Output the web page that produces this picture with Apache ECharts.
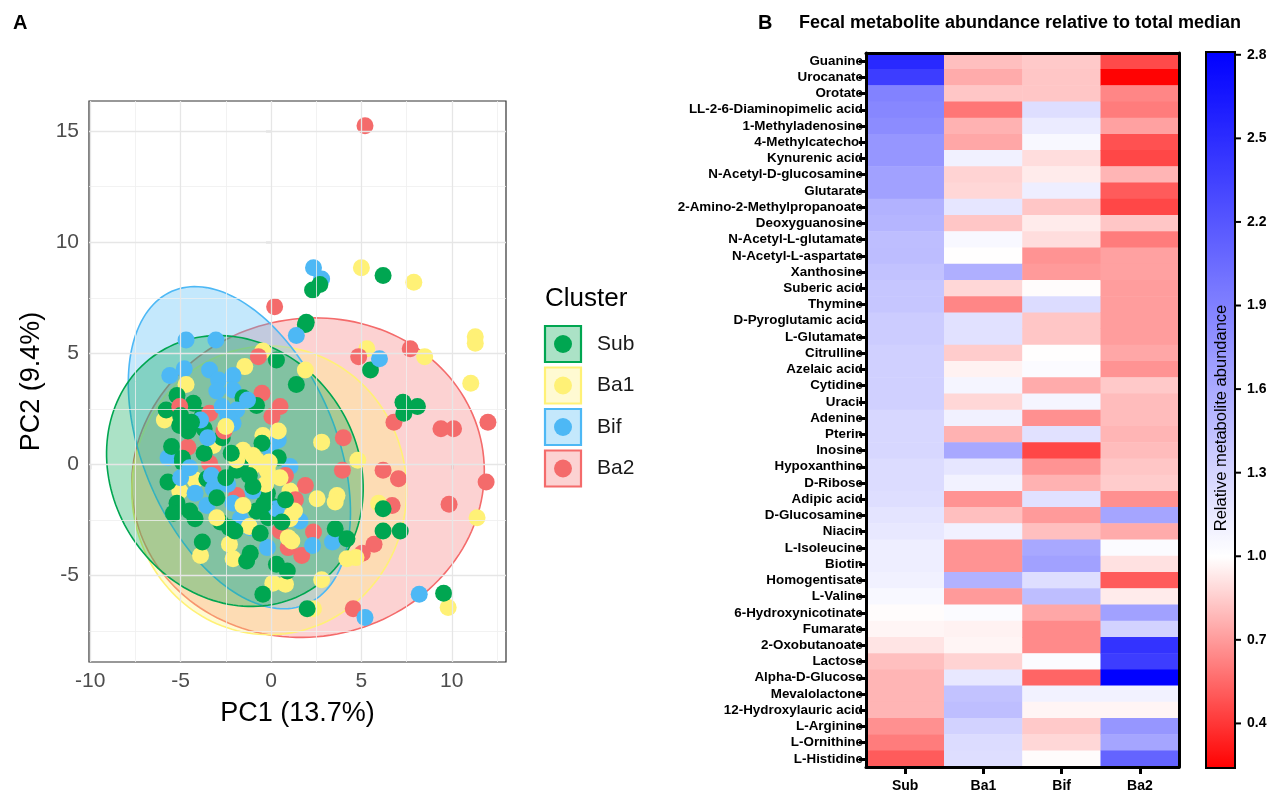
<!DOCTYPE html>
<html><head><meta charset="utf-8">
<script src="https://cdn.jsdelivr.net/npm/echarts@6/dist/echarts.min.js"></script>
<style>html,body{margin:0;padding:0;background:#fff}#c{width:1277px;height:793px}</style>
</head><body><div id="c"></div>
<script>
// ---------- Panel A data ----------
const clusters = ['Sub', 'Ba1', 'Bif', 'Ba2'];
const pointsSub = [[1.9,6.3],[0.3,4.7],[1.4,3.6],[5.5,4.25],[-5.2,3.1],[-5.8,2.45],[-4.3,2.75],[-3.8,2.2],[-1.55,3.0],[-0.8,2.65],[-5.05,1.75],[-4.6,1.5],[-3.7,1.6],[-2.7,1.2],[-3.7,0.5],[-4.9,0.27],[-0.5,0.95],[0.4,0.3],[-1.7,-0.05],
[-5.7,-0.8],[-4.9,0.1],[-3.55,-0.65],[-5.2,-1.75],[-4.5,-2.1],[-4.2,-2.45],[-5.4,-2.2],[-2.8,-2.6],[-2.3,-2.85],[-1.9,-0.27],[-0.2,-1.3],[-0.8,-2.1],[-0.15,-2.4],[0.1,-1.9],[-3.8,-3.5],[-1.15,-4.0],[-1.35,-4.35],[0.3,-4.5],[0.9,-4.8],[3.55,-2.9],[4.2,-3.35],[-0.45,-5.85],[2.0,-6.5],
[2.3,7.85],[2.7,8.1],[6.2,8.5],[1.95,6.4],[7.3,2.8],[8.1,2.6],[7.35,2.3],[6.2,-2.0],[6.2,-3.0],[7.15,-3.0],[9.55,-5.8],
[-2.2,0.5],[-1.0,-1.0],[-3.0,-1.5],[-5.5,0.8],[-2.5,-0.6],[0.8,-1.6],[-0.6,-3.1],[-4.4,1.9],[-5.0,2.2],[-1.2,-0.5],[-0.4,-1.8],[-2.0,-3.0],[0.6,-2.6]];
const pointsBa1 = [[-0.45,5.1],[5.3,5.2],[-1.45,4.4],[1.9,4.25],[-4.7,3.6],[-5.9,2.0],[-3.2,0.85],[-0.45,1.3],[2.8,1.0],[4.8,0.18],[-1.55,0.63],[-0.8,0.18],
[-5.05,-1.2],[-4.2,-0.7],[-1.15,-0.2],[-0.2,-0.3],[1.05,-1.2],[2.55,-1.55],[3.65,-1.4],[3.55,-1.7],[-2.3,-3.6],[-2.1,-4.25],[-3.9,-4.1],[0.95,-3.3],[1.15,-3.45],[0.1,-5.35],[0.8,-5.4],[2.8,-5.2],[4.2,-4.25],[4.7,-4.2],[2.35,-6.5],[-3.0,-2.4],[0.9,-2.4],[-1.55,-1.85],[1.05,-2.45],
[5.0,8.85],[7.9,8.2],[11.3,5.75],[11.3,5.45],[8.5,4.85],[11.05,3.65],[5.95,-1.75],[11.4,-2.4],[9.8,-6.45],
[-0.6,0.0],[-1.9,0.2],[-0.3,-0.9],[0.5,-0.6],[-2.5,1.7],[0.4,1.5],[-1.2,-2.8],[-1.0,0.4],[-0.1,0.1],[1.3,-2.1]];
const pointsBif = [[-4.7,5.6],[-3.05,5.6],[1.4,5.8],[-5.6,4.0],[-4.8,4.3],[-3.4,4.25],[-2.9,3.8],[-2.1,4.0],[-2.1,3.35],[-2.7,2.6],[-1.9,2.45],[-2.1,1.85],[0.4,1.1],[-0.05,0.7],[-5.7,0.3],[-3.5,1.2],[6.0,4.75],[1.05,-0.1],
[-4.2,-1.3],[-3.55,-1.85],[-2.1,-1.75],[-1.7,-2.45],[-1.15,-2.85],[-0.2,-3.75],[1.6,-2.55],[2.3,-3.65],[3.4,-3.5],[-3.2,-1.1],[5.2,-6.9],[2.35,8.85],[2.8,8.35],[8.2,-5.85],
[-4.5,-0.15],[-1.0,-1.2],[-2.4,-0.9],[-3.9,2.0],[0.3,-2.0],[-5.0,-0.6],[-1.3,2.9],[-3.0,3.3],[-2.4,2.2],[-3.3,-0.5]];
const pointsBa2 = [[5.2,15.25],[0.2,7.1],[7.7,5.2],[4.85,4.85],[-0.7,4.85],[-0.5,3.2],[0.5,2.6],[0.05,2.15],[-5.05,2.6],[-3.4,2.3],[-4.6,0.77],[-3.4,0.05],[4.0,1.2],[3.95,-0.27],
[-1.9,-1.4],[-0.6,-1.05],[1.9,-0.95],[1.35,-1.6],[0.5,-3.0],[0.95,-3.75],[1.7,-4.1],[2.35,-3.05],[4.55,-6.5],[5.7,-3.6],[5.05,-4.0],
[6.8,1.9],[9.4,1.6],[10.1,1.6],[12.0,1.9],[6.2,-0.27],[7.05,-0.65],[11.9,-0.8],[9.85,-1.8],[6.7,-1.85],
[-2.6,1.5],[0.8,-0.5],[-3.2,-0.3]];
// ellipse parameters: [centre x, centre y, semi-axis a, semi-axis b, angle deg]
const ellipseSub = [-2.0, -0.3, 7.24, 5.93, -20];
const ellipseBa1 = [-0.1, -1.17, 7.6, 6.5, 0];
const ellipseBif = [-1.75, 0.75, 8.03, 5.09, -56.3];
const ellipseBa2 = [2.05, -0.6, 9.76, 7.18, 3.8];
const xTicks = [-10, -5, 0, 5, 10];
const yTicks = [-5, 0, 5, 10, 15];
const xMinor = [-7.5, -2.5, 2.5, 7.5, 12.5];
const yMinor = [-7.5, -2.5, 2.5, 7.5, 12.5];

// ---------- Panel B data ----------
const metabolites = ['Guanine','Urocanate','Orotate','LL-2-6-Diaminopimelic acid','1-Methyladenosine','4-Methylcatechol','Kynurenic acid','N-Acetyl-D-glucosamine','Glutarate','2-Amino-2-Methylpropanoate','Deoxyguanosine','N-Acetyl-L-glutamate','N-Acetyl-L-aspartate','Xanthosine','Suberic acid','Thymine','D-Pyroglutamic acid','L-Glutamate','Citrulline','Azelaic acid','Cytidine','Uracil','Adenine','Pterin','Inosine','Hypoxanthine','D-Ribose','Adipic acid','D-Glucosamine','Niacin','L-Isoleucine','Biotin','Homogentisate','L-Valine','6-Hydroxynicotinate','Fumarate','2-Oxobutanoate','Lactose','Alpha-D-Glucose','Mevalolactone','12-Hydroxylauric acid','L-Arginine','L-Ornithine','L-Histidine'];
const groups = ['Sub', 'Ba1', 'Bif', 'Ba2'];
const valSub = [2.52,2.38,1.89,1.85,1.82,1.75,1.75,1.67,1.67,1.55,1.53,1.46,1.47,1.43,1.40,1.40,1.36,1.36,1.33,1.33,1.33,1.33,1.28,1.28,1.28,1.25,1.25,1.23,1.19,1.16,1.12,1.12,1.10,1.05,0.99,0.97,0.92,0.81,0.78,0.78,0.78,0.67,0.61,0.51];
const valBa1 = [0.81,0.75,0.83,0.59,0.77,0.74,1.10,0.87,0.88,1.18,0.83,1.05,1.0,1.57,0.88,0.64,1.21,1.21,0.85,0.96,1.07,0.88,1.10,0.77,1.62,1.18,1.09,0.68,0.81,1.10,0.68,0.68,1.55,0.70,1.03,0.96,0.97,0.87,1.16,1.43,1.46,1.32,1.25,1.23];
const valBif = [0.84,0.83,0.83,1.23,1.14,1.05,0.90,0.94,1.12,0.83,0.94,0.90,0.68,0.70,0.99,1.25,0.83,0.83,1.0,1.03,0.75,1.07,0.67,1.21,0.45,0.68,0.77,1.21,0.70,0.81,1.62,1.67,1.23,1.46,0.74,0.65,0.65,1.03,0.54,1.09,0.97,0.84,0.88,0.99];
const valBa2 = [0.46,0.25,0.64,0.61,0.72,0.48,0.45,0.78,0.51,0.45,0.83,0.61,0.72,0.72,0.71,0.71,0.71,0.71,0.74,0.68,0.84,0.80,0.80,0.78,0.80,0.83,0.85,0.67,1.64,0.75,1.03,0.91,0.51,0.94,1.67,1.32,2.45,2.38,2.80,1.09,0.97,1.75,1.64,2.10];
const colorTicks = [0.4, 0.7, 1.0, 1.3, 1.6, 1.9, 2.2, 2.5, 2.8];
const cMin = 0.24, cMax = 2.81, cMid = 1.0;

// ---------- styles ----------
const FONT = '"Liberation Sans", Arial, Helvetica, sans-serif';
const clusterColors = ['#00A651', '#FFF176', '#4DB8F5', '#F46B6B'];
const clusterFills = ['rgba(0,166,81,0.33)', 'rgba(255,241,118,0.33)', 'rgba(77,184,245,0.33)', 'rgba(244,107,107,0.3)'];
const pointSets = [pointsSub, pointsBa1, pointsBif, pointsBa2];
const ellipses = [ellipseSub, ellipseBa1, ellipseBif, ellipseBa2];
const valueCols = [valSub, valBa1, valBif, valBa2];
const drawOrder = [3, 1, 2, 0]; // ellipses: Ba2 at the bottom, Sub on top

// diverging colour map red - white (at 1.0) - blue
function colorAt(v) {
  let r, g, b;
  if (v <= cMid) { const t = (cMid - v) / (cMid - cMin); r = 255; g = b = Math.round(255 * (1 - t)); }
  else { const t = (v - cMid) / (cMax - cMid); r = g = Math.round(255 * (1 - t)); b = 255; }
  return 'rgb(' + r + ',' + g + ',' + b + ')';
}
const N = 257;
const cmap = [];
for (let k = 0; k < N; k++) cmap.push(colorAt(cMin + (cMax - cMin) * k / (N - 1)));

const chart = echarts.init(document.getElementById('c'), null, { renderer: 'canvas' });

function ellipseRenderer(ci) {
  return function (params, api) {
    const cx = api.value(0), cy = api.value(1), a = api.value(2), b = api.value(3);
    const ang = api.value(4) * Math.PI / 180;
    const pts = [];
    for (let k = 0; k <= 160; k++) {
      const t = 2 * Math.PI * k / 160;
      const x = cx + a * Math.cos(ang) * Math.cos(t) - b * Math.sin(ang) * Math.sin(t);
      const y = cy + a * Math.sin(ang) * Math.cos(t) + b * Math.cos(ang) * Math.sin(t);
      pts.push(api.coord([x, y]));
    }
    return { type: 'polygon', shape: { points: pts }, style: { fill: clusterFills[ci], stroke: clusterColors[ci], lineWidth: 1.6 } };
  };
}

const series = [];
// grid lines of panel A
series.push({
  type: 'scatter', xAxisIndex: 0, yAxisIndex: 0, data: [], z: 1, silent: true,
  markLine: {
    silent: true, symbol: ['none', 'none'], label: { show: false }, animation: false,
    data: [].concat(
      xMinor.map(v => ({ xAxis: v, lineStyle: { color: '#EFEFEF', width: 0.8, type: 'solid' } })),
      yMinor.map(v => ({ yAxis: v, lineStyle: { color: '#EFEFEF', width: 0.8, type: 'solid' } })),
      xTicks.map(v => ({ xAxis: v, lineStyle: { color: '#E6E6E6', width: 1.3, type: 'solid' } })),
      yTicks.map(v => ({ yAxis: v, lineStyle: { color: '#E6E6E6', width: 1.3, type: 'solid' } }))
    )
  }
});
drawOrder.forEach(i => {
  series.push({ type: 'custom', name: clusters[i] + ' ellipse', xAxisIndex: 0, yAxisIndex: 0, z: 2, silent: true,
    renderItem: ellipseRenderer(i), data: [ellipses[i]], encode: { x: 0, y: 1 }, clip: true });
});
// points: clusters interleaved so that colours mix in the drawing order
const mixed = [];
const maxLen = Math.max.apply(null, pointSets.map(s => s.length));
for (let k = 0; k < maxLen; k++) {
  [3, 2, 1, 0].forEach(i => {
    const p = pointSets[i][k];
    if (p) mixed.push({ value: p, name: clusters[i], itemStyle: { color: clusterColors[i] } });
  });
}
series.push({ type: 'scatter', name: 'PCA', xAxisIndex: 0, yAxisIndex: 0, z: 3,
  symbol: 'circle', symbolSize: 17, data: mixed, large: false,
  itemStyle: { opacity: 1, borderWidth: 0 } });
// heatmap
const heatData = [];
groups.forEach((g, gi) => { metabolites.forEach((m, mi) => { heatData.push([gi, mi, valueCols[gi][mi]]); }); });
const heatIndex = series.length;
series.push({ type: 'heatmap', xAxisIndex: 1, yAxisIndex: 1, data: heatData, z: 2,
  itemStyle: { borderWidth: 0 }, emphasis: { disabled: true } });
// colour bar with its ticks
const stops = cmap.map((c, k) => ({ offset: 1 - k / (N - 1), color: c }));
series.push({ type: 'custom', xAxisIndex: 3, yAxisIndex: 3, z: 2, silent: true, data: [[0, 0]],
  renderItem: function (params, api) {
    const p0 = api.coord([0, cMax]), p1 = api.coord([1, cMin]);
    const children = [{ type: 'rect', shape: { x: p0[0], y: p0[1], width: p1[0] - p0[0], height: p1[1] - p0[1] },
      style: { fill: new echarts.graphic.LinearGradient(0, 0, 0, 1, stops), stroke: '#000', lineWidth: 2 } }];
    colorTicks.forEach(v => {
      const p = api.coord([1, v]);
      children.push({ type: 'line', shape: { x1: p[0] - 1, y1: p[1], x2: p[0] + 6, y2: p[1] }, style: { stroke: '#000', lineWidth: 2 } });
    });
    return { type: 'group', children: children };
  } });

// legend of panel A built from the cluster list, plus colour-bar title
const legendEls = [{ type: 'text', left: 545, top: 286, style: { text: 'Cluster', fontSize: 26, fill: '#000', fontFamily: FONT } }];
clusters.forEach((c, i) => {
  const y0 = 326 + 41.5 * i;
  legendEls.push({ type: 'rect', shape: { x: 545, y: y0, width: 36, height: 36 }, style: { fill: clusterFills[i], stroke: clusterColors[i], lineWidth: 2.2 } });
  legendEls.push({ type: 'circle', shape: { cx: 563, cy: y0 + 18, r: 9 }, style: { fill: clusterColors[i] } });
  legendEls.push({ type: 'text', x: 597, y: y0 + 18, style: { text: c, fontSize: 21, fill: '#1a1a1a', fontFamily: FONT, verticalAlign: 'middle' } });
});
legendEls.push({ type: 'text', x: 1221, y: 418, rotation: Math.PI / 2, z: 100,
  style: { text: 'Relative metabolite abundance', fontSize: 16.5, fill: '#000', fontFamily: FONT, align: 'center', verticalAlign: 'middle' } });

const option = {
  animation: false,
  backgroundColor: '#fff',
  textStyle: { fontFamily: FONT },
  title: [
    { text: 'A', left: 8, top: 8, textStyle: { fontSize: 20, fontWeight: 'bold', color: '#000', fontFamily: FONT } },
    { text: 'B', left: 753, top: 8, textStyle: { fontSize: 20, fontWeight: 'bold', color: '#000', fontFamily: FONT } },
    { text: 'Fecal metabolite abundance relative to total median', left: 794, top: 9, textStyle: { fontSize: 18, fontWeight: 'bold', color: '#000', fontFamily: FONT } }
  ],
  grid: [
    { left: 89, top: 101, width: 417, height: 561, show: true, borderColor: '#333', borderWidth: 1.2, backgroundColor: '#fff', outerBoundsMode: 'none', containLabel: false },
    { left: 866, top: 53, width: 313, height: 714, outerBoundsMode: 'none', containLabel: false },
    { left: 1206, top: 52, width: 29, height: 716, outerBoundsMode: 'none', containLabel: false }
  ],
  xAxis: [
    { gridIndex: 0, type: 'value', min: -10.07, max: 13.0, axisLine: { show: false },
      axisTick: { show: true, customValues: xTicks, length: 5, lineStyle: { color: '#333', width: 1.2 } },
      axisLabel: { customValues: xTicks, color: '#4D4D4D', fontSize: 21, margin: 9, fontFamily: FONT },
      splitLine: { show: false },
      name: 'PC1 (13.7%)', nameLocation: 'middle', nameGap: 38, nameTextStyle: { fontSize: 27, color: '#000', fontFamily: FONT } },
    { gridIndex: 1, type: 'category', data: groups, position: 'bottom', z: 5,
      axisLine: { show: true, lineStyle: { color: '#000', width: 3 } },
      axisTick: { show: true, alignWithLabel: true, length: 7, lineStyle: { color: '#000', width: 3 } },
      axisLabel: { fontWeight: 'bold', fontSize: 14, color: '#000', margin: 12, fontFamily: FONT }, splitLine: { show: false } },
    { gridIndex: 1, type: 'category', data: groups, position: 'top', z: 5,
      axisLine: { show: true, lineStyle: { color: '#000', width: 3 } }, axisTick: { show: false }, axisLabel: { show: false } },
    { gridIndex: 2, type: 'value', min: 0, max: 1, show: false }
  ],
  yAxis: [
    { gridIndex: 0, type: 'value', min: -8.9, max: 16.36, axisLine: { show: false },
      axisTick: { show: true, customValues: yTicks, length: 5, lineStyle: { color: '#333', width: 1.2 } },
      axisLabel: { customValues: yTicks, color: '#4D4D4D', fontSize: 21, margin: 10, fontFamily: FONT },
      splitLine: { show: false },
      name: 'PC2 (9.4%)', nameLocation: 'middle', nameGap: 44, nameRotate: 90, nameTextStyle: { fontSize: 27, color: '#000', fontFamily: FONT } },
    { gridIndex: 1, type: 'category', data: metabolites, inverse: true, z: 5,
      axisLine: { show: true, lineStyle: { color: '#000', width: 3 } },
      axisTick: { show: true, alignWithLabel: true, length: 7, lineStyle: { color: '#000', width: 3 } },
      axisLabel: { interval: 0, fontWeight: 'bold', fontSize: 13.4, color: '#000', margin: 3, fontFamily: FONT }, splitLine: { show: false } },
    { gridIndex: 1, type: 'category', data: metabolites, inverse: true, position: 'right', z: 5,
      axisLine: { show: true, lineStyle: { color: '#000', width: 3 } }, axisTick: { show: false }, axisLabel: { show: false } },
    { gridIndex: 2, type: 'value', min: cMin, max: cMax, position: 'right', z: 5,
      axisLine: { show: false },
      axisTick: { show: false },
      axisLabel: { customValues: colorTicks, fontWeight: 'bold', fontSize: 14, color: '#000', margin: 12, fontFamily: FONT, formatter: v => v.toFixed(1) },
      splitLine: { show: false } }
  ],
  visualMap: { type: 'continuous', show: false, min: cMin, max: cMax, dimension: 2, seriesIndex: heatIndex, inRange: { color: cmap } },
  graphic: { elements: legendEls },
  series: series
};
chart.setOption(option);
</script></body></html>
